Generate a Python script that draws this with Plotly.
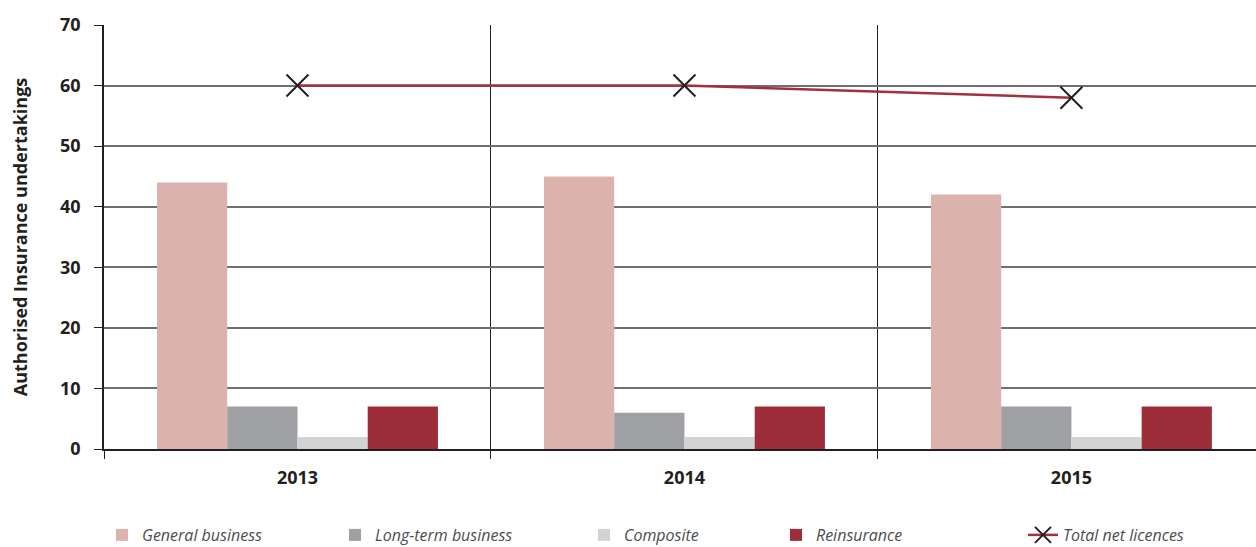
import plotly.graph_objects as go

years = ["2013", "2014", "2015"]
general_business = [44, 45, 42]
long_term_business = [7, 6, 7]
composite = [2, 2, 2]
reinsurance = [7, 7, 7]
total_net_licences = [60, 60, 58]
y_ticks = [0, 10, 20, 30, 40, 50, 60, 70]

FONT = "Open Sans"
W, H = 1256, 547
xpos = list(range(len(years)))

fig = go.Figure()
bar_series = [
    ("General business", general_business, "#dcb3ac", "legend"),
    ("Long-term business", long_term_business, "#9fa0a4", "legend2"),
    ("Composite", composite, "#d2d3d5", "legend3"),
    ("Reinsurance", reinsurance, "#9e2d3a", "legend4"),
]
for name, vals, col, lg in bar_series:
    fig.add_trace(go.Bar(x=xpos, y=vals, name=name, marker=dict(color=col, line=dict(width=0)),
                         legend=lg))

fig.add_trace(go.Scatter(
    x=xpos, y=total_net_licences, name="Total net licences", mode="lines+markers",
    line=dict(color="#a3303e", width=2.5),
    marker=dict(symbol="x-thin", size=22, line=dict(color="#231f20", width=2), color="#231f20"),
    legend="legend5",
))

def leg(text_px):
    return dict(
        xref="container", yref="container", x=(text_px - 40) / W, y=(547 - 518) / H,
        xanchor="left", yanchor="top", orientation="h", bgcolor="rgba(0,0,0,0)",
        font=dict(family=FONT, size=16, color="#4d4d4f", style="italic"),
    )

fig.update_layout(
    width=W, height=H,
    margin=dict(l=104, r=0, t=25, b=98),
    paper_bgcolor="white", plot_bgcolor="white",
    barmode="group", bargap=0.274, bargroupgap=0,
    showlegend=True,
    legend=leg(142), legend2=leg(375), legend3=leg(624), legend4=leg(816), legend5=leg(1063),
    font=dict(family=FONT, color="#231f20"),
    xaxis=dict(
        range=[-0.5, 2.477], tickmode="array", tickvals=xpos, ticktext=years,
        ticks="", showgrid=False, zeroline=False, automargin=False,
        showline=True, linecolor="#231f20", linewidth=1.5,
        tickfont=dict(family=FONT, size=18, color="#231f20", weight="bold"),
        ticklabelstandoff=12,
        minor=dict(tickmode="linear", tick0=0.5, dtick=1, ticks="outside", ticklen=8,
                   tickcolor="#231f20", tickwidth=1.2, showgrid=True,
                   gridcolor="#231f20", gridwidth=1.2),
    ),
    yaxis=dict(
        range=[0, 70], tickmode="array", tickvals=y_ticks, automargin=False,
        ticks="outside", ticklen=8, tickcolor="#231f20", tickwidth=1.2,
        showgrid=True, gridcolor="#6f6f6f", gridwidth=1.5,
        zeroline=False, showline=True, linecolor="#231f20", linewidth=1.5,
        tickfont=dict(family=FONT, size=18, color="#231f20", weight="bold"),
        ticklabelstandoff=10,
        title=dict(text="Authorised Insurance undertakings", standoff=28,
                   font=dict(family=FONT, size=18, color="#231f20", weight="bold")),
    ),
)

fig.write_html("out.html", config={"displayModeBar": False},
               post_script="document.body.style.margin='0';document.body.style.overflow='hidden';")
